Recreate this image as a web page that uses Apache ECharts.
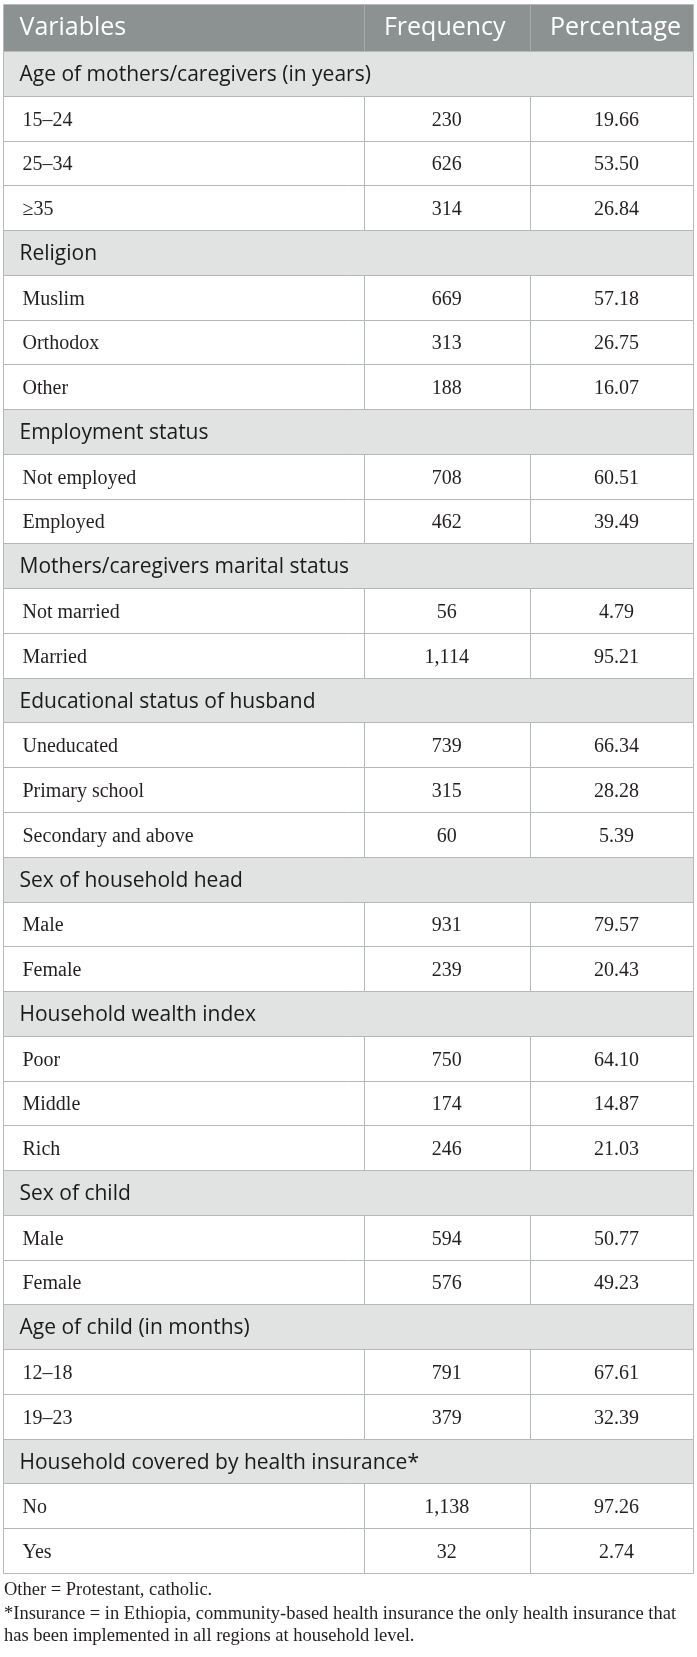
<!DOCTYPE html>
<html>
<head>
<meta charset="utf-8">
<title>Table</title>
<script src="https://cdn.jsdelivr.net/npm/echarts@6/dist/echarts.min.js"></script>
<style>
	html, body { margin: 0; padding: 0; background: #fff; }
	#main { width: 697px; height: 1657px; }
</style>
</head>
<body>
<div id="main"></div>
<script>
var headers = ['Variables', 'Frequency', 'Percentage'];
var groups = [
	'Age of mothers/caregivers (in years)',
	'Religion',
	'Employment status',
	'Mothers/caregivers marital status',
	'Educational status of husband',
	'Sex of household head',
	'Household wealth index',
	'Sex of child',
	'Age of child (in months)',
	'Household covered by health insurance*'
];
var labels = [
	['15–24', '25–34', '≥35'],
	['Muslim', 'Orthodox', 'Other'],
	['Not employed', 'Employed'],
	['Not married', 'Married'],
	['Uneducated', 'Primary school', 'Secondary and above'],
	['Male', 'Female'],
	['Poor', 'Middle', 'Rich'],
	['Male', 'Female'],
	['12–18', '19–23'],
	['No', 'Yes']
];
var frequency = [
	[230, 626, 314],
	[669, 313, 188],
	[708, 462],
	[56, 1114],
	[739, 315, 60],
	[931, 239],
	[750, 174, 246],
	[594, 576],
	[791, 379],
	[1138, 32]
];
var percentage = [
	[19.66, 53.50, 26.84],
	[57.18, 26.75, 16.07],
	[60.51, 39.49],
	[4.79, 95.21],
	[66.34, 28.28, 5.39],
	[79.57, 20.43],
	[64.10, 14.87, 21.03],
	[50.77, 49.23],
	[67.61, 32.39],
	[97.26, 2.74]
];
var notes = [
	'Other = Protestant, catholic.',
	'*Insurance = in Ethiopia, community-based health insurance the only health insurance that',
	'has been implemented in all regions at household level.'
];

// layout (x in px units of the hidden x axis, y in row units)
var tableW = 690;
var colEdges = [0, 360.5, 527, 690];
var headRows = 1.05;
var sans = '"Open Sans", "Noto Sans", sans-serif';
var serif = '"Liberation Serif", "DejaVu Serif", serif';

// flatten into table rows
var rows = [{ kind: 'head', y0: -headRows, y1: 0 }];
var r = 0;
for (var g = 0; g < groups.length; g++) {
	rows.push({ kind: 'section', y0: r, y1: r + 1, text: groups[g] });
	r++;
	for (var k = 0; k < labels[g].length; k++) {
		rows.push({
			kind: 'item', y0: r, y1: r + 1,
			text: labels[g][k],
			freq: frequency[g][k].toLocaleString('en-US'),
			pct: percentage[g][k].toFixed(2)
		});
		r++;
	}
}
var totalRows = r;

function crisp(v) {
	return Math.round(v) + 0.5;
}

function renderRow(params, api) {
	var row = rows[params.dataIndex];
	var p0 = api.coord([0, row.y0]);
	var p1 = api.coord([tableW, row.y1]);
	var x0 = crisp(p0[0]), y0 = crisp(p0[1]);
	var x1 = crisp(p1[0]), y1 = crisp(p1[1]);
	var cy = (y0 + y1) / 2;
	var children = [];
	var fill = row.kind === 'head' ? '#8c9192' : (row.kind === 'section' ? '#e1e3e3' : '#ffffff');
	children.push({
		type: 'rect',
		shape: { x: x0, y: y0, width: x1 - x0, height: y1 - y0 },
		style: { fill: fill, stroke: row.kind === 'head' ? '#b9bcbc' : '#b5b8b8', lineWidth: 1 }
	});
	if (row.kind !== 'section') {
		for (var c = 1; c < 3; c++) {
			var xc = crisp(api.coord([colEdges[c], 0])[0]);
			children.push({
				type: 'line',
				shape: { x1: xc, y1: y0, x2: xc, y2: y1 },
				style: { stroke: row.kind === 'head' ? '#a6aaab' : '#b5b8b8', lineWidth: 1 }
			});
		}
	}
	var xFreq = api.coord([(colEdges[1] + colEdges[2]) / 2, 0])[0];
	var xPct = api.coord([(colEdges[2] + colEdges[3]) / 2 + 5, 0])[0];
	if (row.kind === 'head') {
		var hs = { fill: '#ffffff', fontSize: 25, fontFamily: sans, fontWeight: 'normal', verticalAlign: 'middle' };
		children.push({ type: 'text', style: Object.assign({ text: headers[0], x: x0 + 16, y: cy, align: 'left' }, hs) });
		children.push({ type: 'text', style: Object.assign({ text: headers[1], x: xFreq - 2, y: cy, align: 'center' }, hs) });
		children.push({ type: 'text', style: Object.assign({ text: headers[2], x: xPct - 1, y: cy, align: 'center' }, hs) });
	} else if (row.kind === 'section') {
		children.push({
			type: 'text',
			style: { text: row.text, x: x0 + 16, y: cy + 1.5, align: 'left', verticalAlign: 'middle',
				fill: '#1a1a1a', fontSize: 21, fontFamily: sans }
		});
	} else {
		var ds = { fill: '#231f20', fontSize: 20, fontFamily: serif, verticalAlign: 'middle' };
		children.push({ type: 'text', style: Object.assign({ text: row.text, x: x0 + 19, y: cy + 1.5, align: 'left' }, ds) });
		children.push({ type: 'text', style: Object.assign({ text: row.freq, x: xFreq, y: cy + 1.5, align: 'center' }, ds) });
		children.push({ type: 'text', style: Object.assign({ text: row.pct, x: xPct, y: cy + 1.5, align: 'center' }, ds) });
	}
	return { type: 'group', children: children };
}

var myChart = echarts.init(document.getElementById('main'), null, { renderer: 'canvas' });
var option = {
	backgroundColor: '#ffffff',
	animation: false,
	grid: { left: 3, right: 4, top: 4, bottom: 84 },
	xAxis: { type: 'value', min: 0, max: tableW, show: false },
	yAxis: { type: 'value', min: -headRows, max: totalRows, inverse: true, show: false },
	series: [{
		type: 'custom',
		renderItem: renderRow,
		coordinateSystem: 'cartesian2d',
		silent: true,
		clip: false,
		data: rows.map(function (row, i) { return [0, row.y0]; })
	}],
	graphic: notes.map(function (t, i) {
		return {
			type: 'text',
			x: 4,
			y: [1590, 1614, 1636][i],
			style: { text: t, fill: '#231f20', fontSize: 18.5, fontFamily: serif, verticalAlign: 'middle' }
		};
	})
};
myChart.setOption(option);
</script>
</body>
</html>
